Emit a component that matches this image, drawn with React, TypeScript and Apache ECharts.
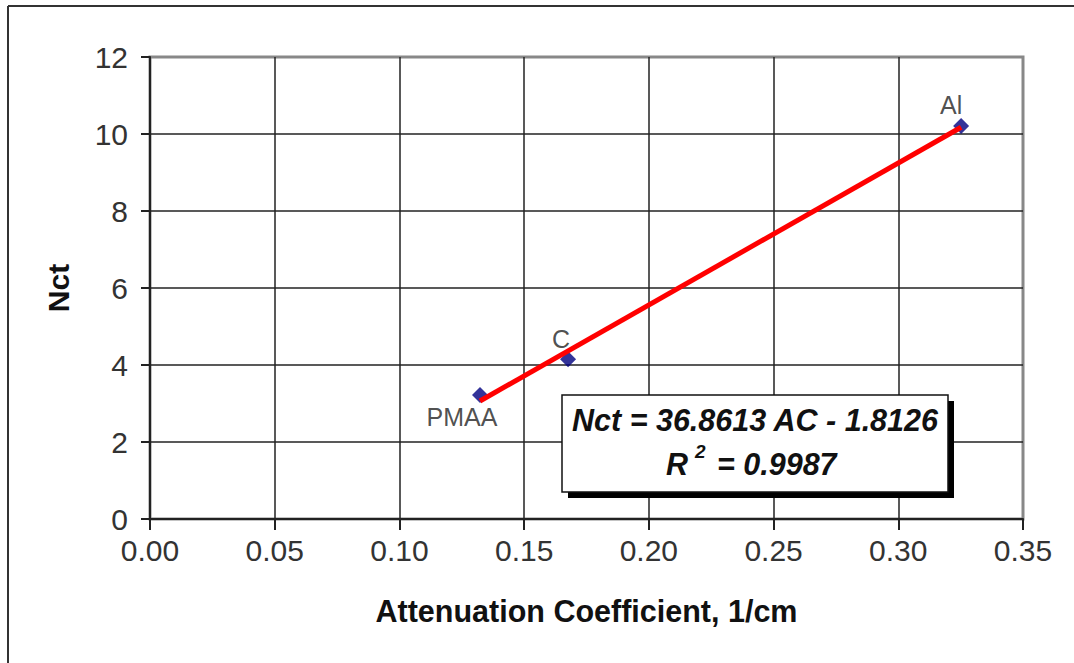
import React, { useEffect, useRef } from "react";
import * as echarts from "echarts";

const materials = ["PMAA", "C", "Al"];
const attenuation = [0.1323, 0.1676, 0.3252];
const nct = [3.22, 4.15, 10.21];
const slope = 36.8613;
const intercept = -1.8126;
const rSquared = "0.9987";
const xTicks = [0, 0.05, 0.1, 0.15, 0.2, 0.25, 0.3, 0.35];
const yTicks = [0, 2, 4, 6, 8, 10, 12];

const labelOffsets: Record<string, number[]> = {
  PMAA: [-18, 22],
  C: [-7, -20],
  Al: [-10, -21],
};

export default function App() {
  const ref = useRef<HTMLDivElement>(null);
  useEffect(() => {
    if (!ref.current) return;
    const chart = echarts.init(ref.current, null, { renderer: "svg" });
    const xMin = Math.min(...attenuation);
    const xMax = Math.max(...attenuation);
    const trend = [
      [xMin, slope * xMin + intercept],
      [xMax, slope * xMax + intercept],
    ];
    const font = "'Liberation Sans', Arial, sans-serif";
    chart.setOption({
      animation: false,
      backgroundColor: "#fff",
      grid: {
        left: 150,
        top: 57,
        right: 51,
        bottom: 144,
        show: true,
        borderColor: "#888",
        borderWidth: 3,
        backgroundColor: "transparent",
      },
      xAxis: {
        type: "value",
        min: xTicks[0],
        max: xTicks[xTicks.length - 1],
        interval: 0.05,
        name: "Attenuation Coefficient, 1/cm",
        nameLocation: "middle",
        nameGap: 76,
        nameTextStyle: { fontFamily: font, fontWeight: "bold", fontSize: 30.5, color: "#111" },
        axisLine: { show: true, onZero: false, lineStyle: { color: "#222", width: 2 } },
        axisTick: { show: true, inside: false, length: 11, lineStyle: { color: "#222", width: 2 } },
        axisLabel: {
          fontFamily: font,
          fontSize: 30,
          color: "#333",
          margin: 16,
          formatter: (v: number) => v.toFixed(2),
        },
        splitLine: { show: true, showMaxLine: false, lineStyle: { color: "#222", width: 1.5 } },
      },
      yAxis: {
        type: "value",
        min: yTicks[0],
        max: yTicks[yTicks.length - 1],
        interval: 2,
        name: "Nct",
        nameLocation: "middle",
        nameGap: 77,
        nameRotate: 90,
        nameTextStyle: { fontFamily: font, fontWeight: "bold", fontSize: 30, color: "#111" },
        axisLine: { show: true, onZero: false, lineStyle: { color: "#222", width: 2 } },
        axisTick: { show: true, inside: false, length: 9, lineStyle: { color: "#222", width: 2 } },
        axisLabel: { fontFamily: font, fontSize: 30, color: "#333", margin: 22 },
        splitLine: { show: true, showMaxLine: false, lineStyle: { color: "#222", width: 1.5 } },
      },
      series: [
        {
          type: "scatter",
          symbol: "diamond",
          symbolSize: 16,
          itemStyle: { color: "#000080" },
          z: 3,
          data: materials.map((m, i) => ({
            value: [attenuation[i], nct[i]],
            name: m,
            label: {
              show: true,
              formatter: m,
              position: "inside",
              offset: labelOffsets[m],
              fontFamily: font,
              fontSize: 25,
              color: "#222",
            },
          })),
        },
        {
          type: "line",
          data: trend,
          showSymbol: false,
          symbol: "none",
          lineStyle: { color: "#ff0000", width: 5 },
          z: 4,
        },
      ],
      graphic: [
        { type: "line", shape: { x1: 8, y1: 6, x2: 1074, y2: 6 }, style: { stroke: "#333", lineWidth: 2 } },
        { type: "line", shape: { x1: 8, y1: 6, x2: 8, y2: 663 }, style: { stroke: "#333", lineWidth: 2 } },
        { type: "rect", shape: { x: 568, y: 401, width: 386, height: 97 }, style: { fill: "#000" }, z: 100 },
        {
          type: "rect",
          shape: { x: 562, y: 395, width: 386, height: 97 },
          style: { fill: "#fff", stroke: "#111", lineWidth: 1.5 },
          z: 101,
        },
        {
          type: "text",
          x: 755,
          y: 420,
          z: 102,
          style: {
            text: `Nct = ${slope} AC - ${Math.abs(intercept)}`,
            fontFamily: font,
            fontWeight: "bold",
            fontStyle: "italic",
            fontSize: 30.5,
            fill: "#111",
            align: "center",
            verticalAlign: "middle",
          },
        },
        {
          type: "text",
          x: 666,
          y: 464,
          z: 102,
          style: {
            text: "R",
            fontFamily: font,
            fontWeight: "bold",
            fontStyle: "italic",
            fontSize: 30.5,
            fill: "#111",
            align: "left",
            verticalAlign: "middle",
          },
        },
        {
          type: "text",
          x: 695,
          y: 451,
          z: 102,
          style: {
            text: "2",
            fontFamily: font,
            fontWeight: "bold",
            fontStyle: "italic",
            fontSize: 19,
            fill: "#111",
            align: "left",
            verticalAlign: "middle",
          },
        },
        {
          type: "text",
          x: 717,
          y: 464,
          z: 102,
          style: {
            text: `= ${rSquared}`,
            fontFamily: font,
            fontWeight: "bold",
            fontStyle: "italic",
            fontSize: 30.5,
            fill: "#111",
            align: "left",
            verticalAlign: "middle",
          },
        },
      ],
    });
    return () => chart.dispose();
  }, []);
  return (
    <div
      ref={ref}
      style={{ position: "fixed", left: 0, top: 0, width: 1074, height: 663 }}
    />
  );
}
